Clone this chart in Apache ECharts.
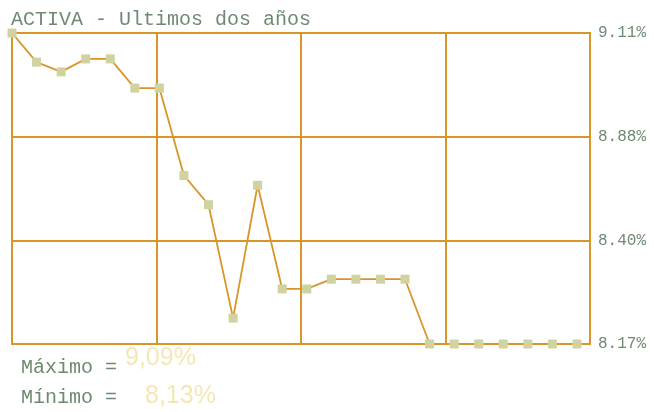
<!DOCTYPE html>
<html>
<head>
<meta charset="utf-8">
<script src="https://cdn.jsdelivr.net/npm/echarts@6/dist/echarts.min.js"></script>
<style>html,body{margin:0;padding:0;background:#fff}#c{width:654px;height:412px}</style>
</head>
<body>
<div id="c"></div>
<script>
var titleText = 'ACTIVA - Ultimos dos años';
var periods = [0,1,2,3,4,5,6,7,8,9,10,11,12,13,14,15,16,17,18,19,20,21,22,23];
var values = [9.09,9.00,8.97,9.01,9.01,8.92,8.92,8.65,8.56,8.21,8.62,8.30,8.30,8.33,8.33,8.33,8.33,8.13,8.13,8.13,8.13,8.13,8.13,8.13];
var yTickLabels = ['8.17%','8.40%','8.88%','9.11%'];
var maxLabel = 'Máximo =';
var minLabel = 'Mínimo =';

var yMin = Math.min.apply(null, values);
var yMax = Math.max.apply(null, values);
var yStep = (yMax - yMin) / 3;
var xMax = 23.53;
var fmt = function(v){ return v.toFixed(2).replace('.', ',') + '%'; };

var chart = echarts.init(document.getElementById('c'), null, {renderer:'canvas'});
var orange = '#d8952a';
var green = '#6f8a72';
chart.setOption({
  animation:false,
  grid:{left:12, right:64, top:33, bottom:68, show:true, borderColor:orange, borderWidth:2},
  xAxis:{type:'value', min:0, max:xMax, interval:xMax/4,
    axisLine:{show:false}, axisTick:{show:false}, axisLabel:{show:false},
    splitLine:{show:true, lineStyle:{color:orange, width:2}}},
  yAxis:{type:'value', position:'right', min:yMin, max:yMax, interval:yStep,
    axisLine:{show:false}, axisTick:{show:false},
    splitLine:{show:true, lineStyle:{color:orange, width:2}},
    axisLabel:{show:true, margin:8, color:green, fontFamily:'Liberation Mono', fontSize:16,
      padding:[0,0,10,0],
      formatter:function(v){ var i = Math.round((v - yMin)/yStep); return yTickLabels[i] || ''; }}},
  series:[{type:'line', data:periods.map(function(p,i){return [p, values[i]];}),
    symbol:'rect', symbolSize:9, showAllSymbol:true,
    itemStyle:{color:'#d0d3a0'},
    lineStyle:{color:orange, width:1.8}, z:3}],
  graphic:[
    {type:'text', left:11, top:10, style:{text:titleText, fill:green, font:'20px "Liberation Mono"'}},
    {type:'text', left:21, top:358, style:{text:maxLabel, fill:green, font:'20px "Liberation Mono"'}},
    {type:'text', left:21, top:388, style:{text:minLabel, fill:green, font:'20px "Liberation Mono"'}},
    {type:'text', left:125, top:346, style:{text:fmt(yMax), fill:'#f5e7b5', font:'25px "Liberation Sans"'}},
    {type:'text', left:145, top:384, style:{text:fmt(yMin), fill:'#f5e7b5', font:'25px "Liberation Sans"'}}
  ]
});
</script>
</body>
</html>
